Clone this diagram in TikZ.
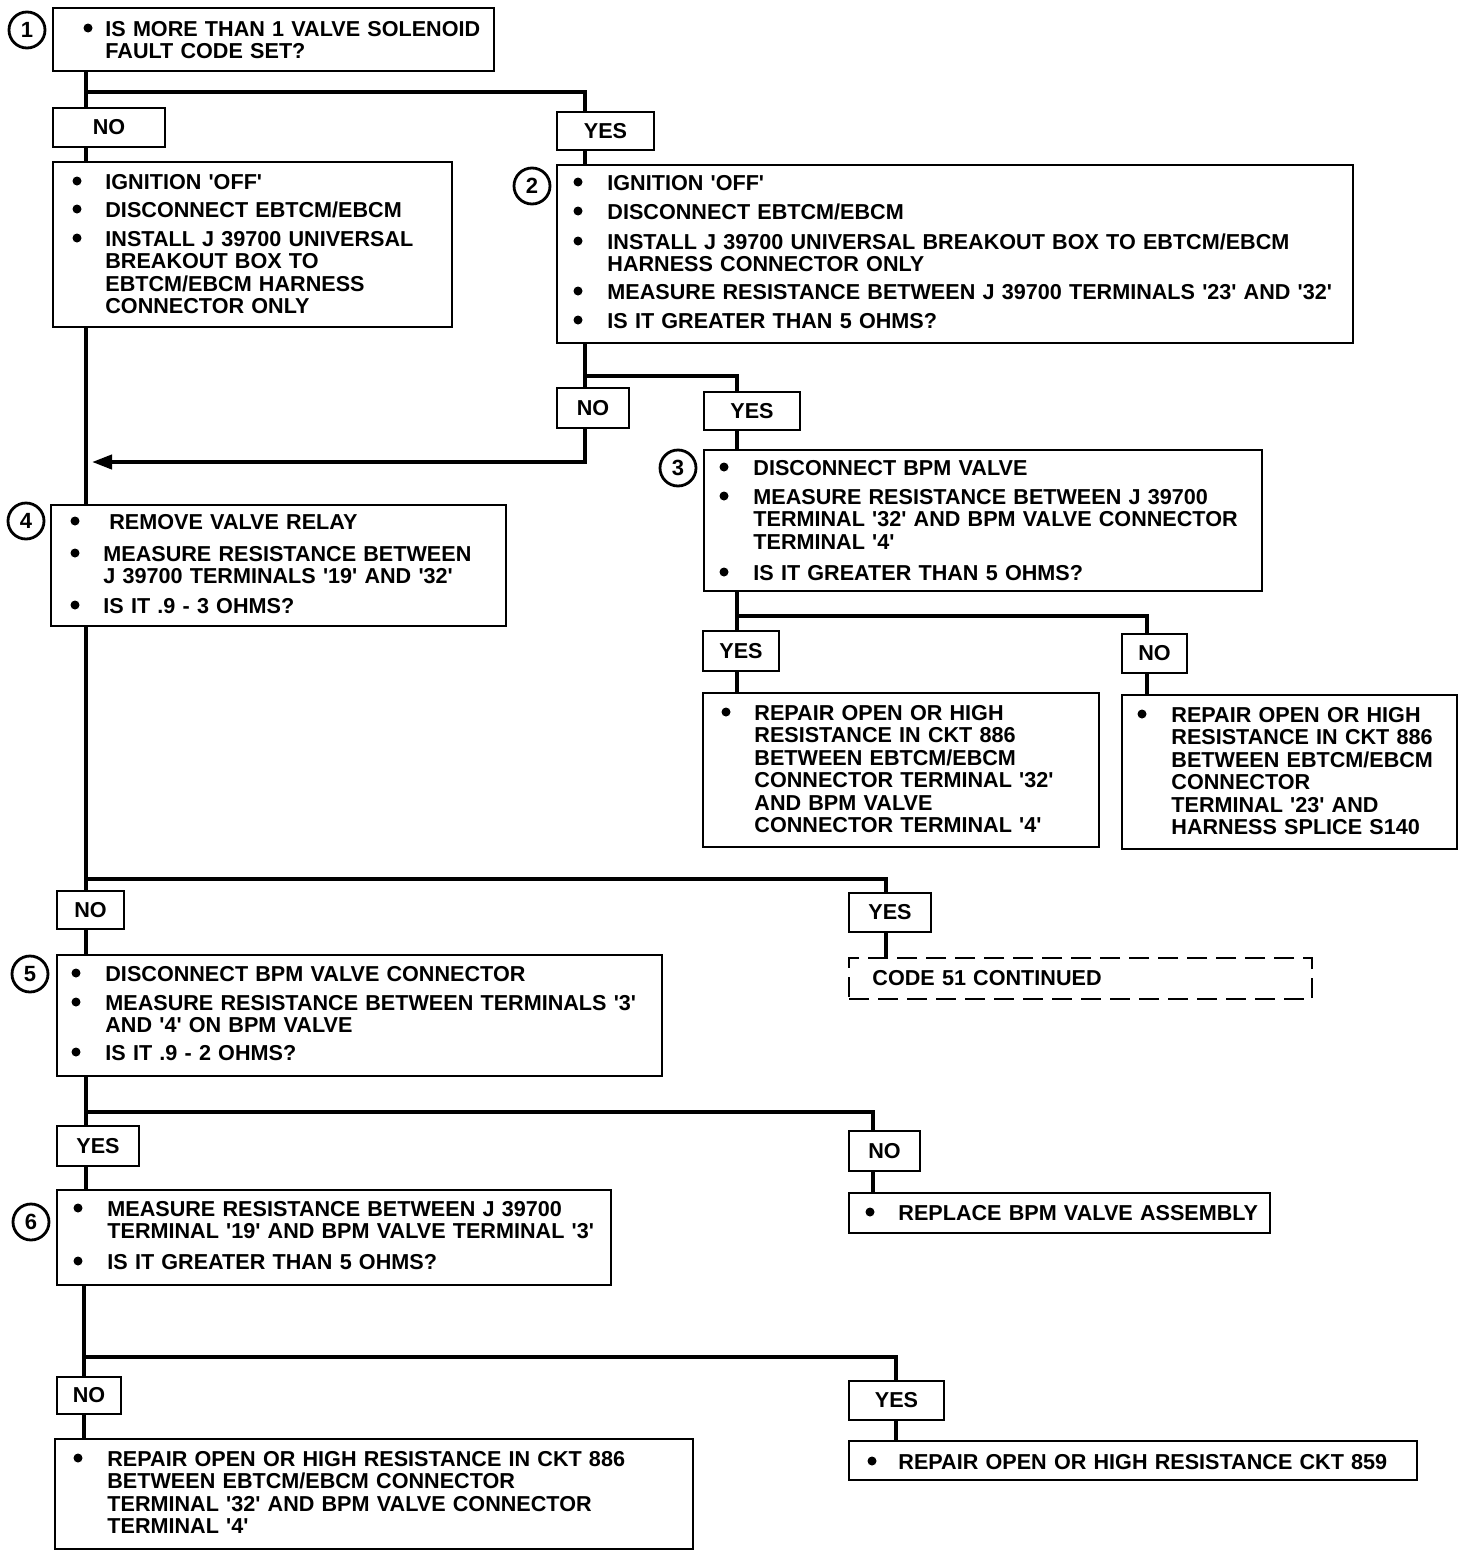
\documentclass[tikz,border=0pt]{standalone}
\usepackage{fontspec}
\setmainfont{Liberation Sans}
\usetikzlibrary{fit,arrows.meta}
\newcommand\itm[5]{\node[bul] (#1-b) at (#2,#4-8) {}; \node[txt] (#1) at (#3,#4) {#5};}
\newcommand\lab[6]{\node[box, fit={(#2,#3) (#4,#5)}] (#1) {}; \node[lt] (#1-t) at (#1.center) {#6};}
\newcommand\q{\textquotesingle}
\begin{document}
\begin{tikzpicture}[x=0.5pt,y=-0.5pt,
 box/.style={draw, line width=1.4pt, inner sep=0pt, rectangle},
 dbox/.style={box, dash pattern=on 10pt off 4.5pt},
 lt/.style={inner sep=0pt, font=\bfseries\fontsize{10.8}{11.25}\selectfont},
 num/.style={draw, circle, line width=1.4pt, minimum size=18pt, inner sep=0pt, font=\bfseries\fontsize{11}{12}\selectfont},
 txt/.style={anchor=base west, inner sep=0pt, align=left, text width=400pt, font=\bfseries\fontsize{10.8}{11.25}\selectfont},
 bul/.style={circle, fill, inner sep=0pt, minimum size=4.5pt},
 wire/.style={line width=2pt},
 ]
\useasboundingbox (0,0) rectangle (1472,1558);

% numbered circles
\node[num] (c1) at (27,30) {1};
\node[num] (c2) at (532,186) {2};
\node[num] (c3) at (678,468) {3};
\node[num] (c4) at (26,521) {4};
\node[num] (c5) at (30,974) {5};
\node[num] (c6) at (31,1222) {6};

% boxes
\node[box, fit={(53,8) (494,71)}] (b1) {};
\node[box, fit={(53,162) (452,327)}] (bA) {};
\node[box, fit={(557,165) (1353,343)}] (b2) {};
\node[box, fit={(704,450) (1262,591)}] (b3) {};
\node[box, fit={(703,693) (1099,847)}] (b3a) {};
\node[box, fit={(1122,695) (1457,849)}] (b3b) {};
\node[box, fit={(51,505) (506,626)}] (b4) {};
\node[dbox, fit={(849,958) (1312,999)}] (d1) {};
\node[box, fit={(57,955) (662,1076)}] (b5) {};
\node[box, fit={(849,1193) (1270,1233)}] (brep) {};
\node[box, fit={(57,1190) (611,1285)}] (b6) {};
\node[box, fit={(55,1439) (693,1549)}] (b7) {};
\node[box, fit={(849,1441) (1417,1480)}] (b8) {};

% answer labels
\lab{no1}{53}{108}{165}{147}{NO}
\lab{yes1}{557}{112}{654}{150}{YES}
\lab{no2}{557}{388}{629}{428}{NO}
\lab{yes2}{704}{392}{800}{430}{YES}
\lab{yes3}{703}{631}{779}{671}{YES}
\lab{no3}{1122}{634}{1187}{673}{NO}
\lab{no4}{57}{891}{124}{929}{NO}
\lab{yes4}{849}{893}{931}{932}{YES}
\lab{yes5}{57}{1126}{139}{1166}{YES}
\lab{no5}{849}{1131}{920}{1171}{NO}
\lab{no6}{57}{1377}{121}{1414}{NO}
\lab{yes6}{849}{1381}{944}{1420}{YES}

% texts
\itm{t1}{88}{105}{36}{IS MORE THAN 1 VALVE SOLENOID\\FAULT CODE SET?}

\itm{tA1}{77}{105}{189}{IGNITION \q OFF\q}
\itm{tA2}{77}{105}{217}{DISCONNECT EBTCM/EBCM}
\itm{tA3}{77}{105}{246}{INSTALL J 39700 UNIVERSAL\\BREAKOUT BOX TO\\EBTCM/EBCM HARNESS\\CONNECTOR ONLY}

\itm{t21}{578}{607}{190}{IGNITION \q OFF\q}
\itm{t22}{578}{607}{219}{DISCONNECT EBTCM/EBCM}
\itm{t23}{578}{607}{249}{INSTALL J 39700 UNIVERSAL BREAKOUT BOX TO EBTCM/EBCM\\HARNESS CONNECTOR ONLY}
\itm{t24}{578}{607}{299}{MEASURE RESISTANCE BETWEEN J 39700 TERMINALS \q 23\q\ AND \q 32\q}
\itm{t25}{578}{607}{328}{IS IT GREATER THAN 5 OHMS?}

\itm{t31}{724}{753}{475}{DISCONNECT BPM VALVE}
\itm{t32}{724}{753}{504}{MEASURE RESISTANCE BETWEEN J 39700\\TERMINAL \q 32\q\ AND BPM VALVE CONNECTOR\\TERMINAL \q 4\q}
\itm{t33}{724}{753}{580}{IS IT GREATER THAN 5 OHMS?}

\itm{t3a}{726}{754}{720}{REPAIR OPEN OR HIGH\\RESISTANCE IN CKT 886\\BETWEEN EBTCM/EBCM\\CONNECTOR TERMINAL \q 32\q\\AND BPM VALVE\\CONNECTOR TERMINAL \q 4\q}
\itm{t3b}{1142}{1171}{722}{REPAIR OPEN OR HIGH\\RESISTANCE IN CKT 886\\BETWEEN EBTCM/EBCM\\CONNECTOR\\TERMINAL \q 23\q\ AND\\HARNESS SPLICE S140}

\itm{t41}{75}{109}{529}{REMOVE VALVE RELAY}
\itm{t42}{75}{103}{561}{MEASURE RESISTANCE BETWEEN\\J 39700 TERMINALS \q 19\q\ AND \q 32\q}
\itm{t43}{75}{103}{613}{IS IT .9 - 3 OHMS?}

\node[txt] (td) at (872,985) {CODE 51 CONTINUED};

\itm{t51}{76}{105}{981}{DISCONNECT BPM VALVE CONNECTOR}
\itm{t52}{76}{105}{1010}{MEASURE RESISTANCE BETWEEN TERMINALS \q 3\q\\AND \q 4\q\ ON BPM VALVE}
\itm{t53}{76}{105}{1060}{IS IT .9 - 2 OHMS?}

\itm{tr}{870}{898}{1220}{REPLACE BPM VALVE ASSEMBLY}

\itm{t61}{78}{107}{1216}{MEASURE RESISTANCE BETWEEN J 39700\\TERMINAL \q 19\q\ AND BPM VALVE TERMINAL \q 3\q}
\itm{t62}{78}{107}{1269}{IS IT GREATER THAN 5 OHMS?}

\itm{t7}{78}{107}{1466}{REPAIR OPEN OR HIGH RESISTANCE IN CKT 886\\BETWEEN EBTCM/EBCM CONNECTOR\\TERMINAL \q 32\q\ AND BPM VALVE CONNECTOR\\TERMINAL \q 4\q}
\itm{t8}{872}{898}{1469}{REPAIR OPEN OR HIGH RESISTANCE CKT 859}

% junction coordinates
\coordinate (j1) at (86,92);  \coordinate (k1) at (585,92);
\coordinate (j2) at (585,376); \coordinate (k2) at (737,376);
\coordinate (ar) at (92,462);
\coordinate (j3) at (737,616); \coordinate (k3) at (1147,616);
\coordinate (j4) at (86,879);  \coordinate (k4) at (886,879);
\coordinate (j5) at (86,1112); \coordinate (k5) at (873,1112);
\coordinate (j6) at (84,1357); \coordinate (k6) at (896,1357);

% connectors
\draw[wire] (j1 |- b1.south) -- (j1 |- no1.north);
\draw[wire] (j1) -- (k1) -- (k1 |- yes1.north);
\draw[wire] (j1 |- no1.south) -- (j1 |- bA.north);
\draw[wire] (k1 |- yes1.south) -- (k1 |- b2.north);
\draw[wire] (j1 |- bA.south) -- (j1 |- b4.north);

\draw[wire] (j2 |- b2.south) -- (j2 |- no2.north);
\draw[wire] (j2) -- (k2) -- (k2 |- yes2.north);
\draw[wire] (k2 |- yes2.south) -- (k2 |- b3.north);
\draw[wire, -{Triangle[length=10pt,width=7pt]}] (j2 |- no2.south) -- (j2 |- ar) -- (ar);

\draw[wire] (j3 |- b3.south) -- (j3 |- yes3.north);
\draw[wire] (j3) -- (k3) -- (k3 |- no3.north);
\draw[wire] (j3 |- yes3.south) -- (j3 |- b3a.north);
\draw[wire] (k3 |- no3.south) -- (k3 |- b3b.north);

\draw[wire] (j4 |- b4.south) -- (j4 |- no4.north);
\draw[wire] (j4) -- (k4) -- (k4 |- yes4.north);
\draw[wire] (j4 |- no4.south) -- (j4 |- b5.north);
\draw[wire] (k4 |- yes4.south) -- (k4 |- d1.north);

\draw[wire] (j5 |- b5.south) -- (j5 |- yes5.north);
\draw[wire] (j5) -- (k5) -- (k5 |- no5.north);
\draw[wire] (j5 |- yes5.south) -- (j5 |- b6.north);
\draw[wire] (k5 |- no5.south) -- (k5 |- brep.north);

\draw[wire] (j6 |- b6.south) -- (j6 |- no6.north);
\draw[wire] (j6) -- (k6) -- (k6 |- yes6.north);
\draw[wire] (j6 |- no6.south) -- (j6 |- b7.north);
\draw[wire] (k6 |- yes6.south) -- (k6 |- b8.north);
\end{tikzpicture}
\end{document}
